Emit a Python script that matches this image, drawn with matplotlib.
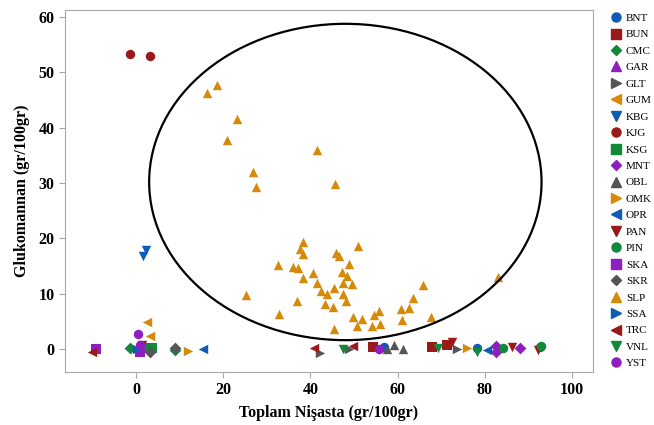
import matplotlib
matplotlib.use("Agg")
import matplotlib.pyplot as plt
from matplotlib.patches import Ellipse
from matplotlib.lines import Line2D

plt.rcParams['font.family'] = ['Liberation Serif', 'DejaVu Serif']

# sample codes and their (Toplam Nisasta, Glukomannan) values
BNT = ([78.1, 92.7, 56.9], [0.1, 0.4, 0.4])
BUN = ([54.4, 67.8, 71.3], [0.4, 0.4, 0.7])
CMC = ([-1.4, 8.9], [0.2, -0.2])
GAR = ([1.0], [-0.3])
GLT = ([42.2, 48.9, 73.5], [-0.7, 0.0, 0.0])
GUM = ([2.5, 3.1], [4.9, 2.4])
KBG = ([2.3, 1.6], [17.9, 16.8])
KJG = ([-1.4, 3.2], [53.3, 52.9])
KSG = ([2.8, 3.6], [0.2, 0.2])
MNT = ([82.6, 82.6, 88.1], [0.5, -0.5, 0.1])
OBL = ([57.5, 59.2, 61.3], [0.0, 0.7, 0.0])
OMK = ([12.0, 76.0], [-0.3, 0.2])
OPR = ([0.0, 15.3, 80.4], [0.0, 0.0, -0.2])
PAN = ([1.3, 72.4, 86.2, 92.1], [0.7, 1.3, 0.3, -0.2])
PIN = ([84.2, 92.9], [0.1, 0.5])
SKA = ([-9.2, 0.9], [0.0, -0.5])
SKR = ([8.9, 3.1], [0.2, -0.5])
SLP = ([18.6, 16.2, 23.1, 20.9, 41.5, 26.9, 27.5, 45.6,
        38.2, 37.5, 38.4, 32.5, 35.9, 37.1, 45.9, 46.5, 50.8, 48.9,
        40.5, 38.2, 47.3, 48.3, 41.6, 49.5, 47.4, 45.3, 42.4, 43.9,
        47.5, 25.2, 36.9, 43.3, 45.1, 48.1, 65.8, 63.5, 60.8, 62.7,
        61.1, 67.7, 32.7, 49.7, 51.8, 54.5, 55.7, 56.0, 54.1, 50.6,
        45.4, 83.0],
       [47.7, 46.3, 41.6, 37.8, 36.0, 32.0, 29.3, 29.8,
        19.4, 18.0, 17.1, 15.2, 14.9, 14.7, 17.3, 16.8, 18.6, 15.3,
        13.7, 12.8, 13.9, 13.2, 11.9, 11.7, 11.9, 11.1, 10.4, 9.9,
        9.9, 9.8, 8.6, 8.2, 7.6, 8.6, 11.5, 9.3, 7.2, 7.5,
        5.2, 5.8, 6.3, 5.7, 5.5, 6.1, 6.9, 4.6, 4.2, 4.2,
        3.7, 13.0])
SSA = ([0.2], [0.0])
TRC = ([-10.2, 40.7, 49.7], [-0.5, 0.2, 0.5])
VNL = ([47.5, 69.3, 78.3], [0.0, 0.2, -0.5])
YST = ([0.5, 0.9, 55.8], [2.8, 0.7, 0.0])

codes = ['BNT', 'BUN', 'CMC', 'GAR', 'GLT', 'GUM', 'KBG', 'KJG', 'KSG', 'MNT', 'OBL',
         'OMK', 'OPR', 'PAN', 'PIN', 'SKA', 'SKR', 'SLP', 'SSA', 'TRC', 'VNL', 'YST']
series = [BNT, BUN, CMC, GAR, GLT, GUM, KBG, KJG, KSG, MNT, OBL,
          OMK, OPR, PAN, PIN, SKA, SKR, SLP, SSA, TRC, VNL, YST]

blue, red, green, purple, grey, orange = '#0F5BB5', '#9A1A1A', '#12883A', '#8E1EC0', '#555555', '#D68A0A'
colors = [blue, red, green, purple, grey, orange, blue, red, green, purple, grey,
          orange, blue, red, green, purple, grey, orange, blue, red, green, purple]
markers = ['o', 's', 'D', '^', '>', '<', 'v', 'o', 's', 'D', '^',
           '>', '<', 'v', 'o', 's', 'D', '^', '>', '<', 'v', 'o']

fig = plt.figure(figsize=(6.54, 4.25), dpi=100)
ax = fig.add_axes([0.0994, 0.1247, 0.8073, 0.8518])

for (xs, ys), c, m in zip(series, colors, markers):
    sz = 36 if m == 'D' else 46
    ax.scatter(xs, ys, s=sz, c=c, marker=m, linewidths=0, zorder=3)

ax.add_patch(Ellipse((48.0, 30.2), 90.0, 57.2, fill=False, ec='black', lw=1.6, zorder=4))

ax.set_xlim(-16.3, 104.8)
ax.set_ylim(-4.16, 61.3)
ax.set_xticks([0, 20, 40, 60, 80, 100])
ax.set_yticks([0, 10, 20, 30, 40, 50, 60])
for s in ax.spines.values():
    s.set_color('#A8A8A8')
ax.tick_params(colors='#A8A8A8', labelcolor='black', length=4, width=0.8)
for lab in ax.get_xticklabels() + ax.get_yticklabels():
    lab.set_fontsize(11.5)
    lab.set_fontweight('bold')

ax.set_xlabel('Toplam Nişasta (gr/100gr)', fontsize=11.5, fontweight='bold', labelpad=5)
ax.set_ylabel('Glukomannan (gr/100gr)', fontsize=11.5, fontweight='bold', labelpad=6)

handles = [Line2D([], [], ls='none', marker=m, color=c, markersize=6.5 if m != 'D' else 5.5)
           for m, c in zip(markers, colors)]
fig.legend(handles, codes, loc='upper left', bbox_to_anchor=(0.9357, 0.969),
           frameon=False, fontsize=8, handlelength=0.8, handletextpad=0.45,
           labelspacing=0.6, borderpad=0, borderaxespad=0)

fig.savefig('out.png', dpi=100)
